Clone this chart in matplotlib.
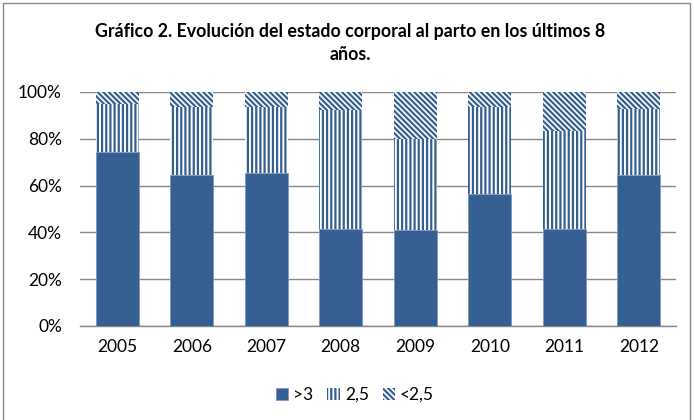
import matplotlib
matplotlib.use("Agg")
import matplotlib.pyplot as plt
from matplotlib.patches import Rectangle
import numpy as np

years = ["2005", "2006", "2007", "2008", "2009", "2010", "2011", "2012"]
gt3 = [74.5, 64.5, 65.4, 41.5, 41.0, 56.4, 41.5, 64.5]
v25 = [20.2, 29.2, 28.3, 50.8, 39.0, 37.3, 41.8, 28.2]
lt25 = [5.3, 6.3, 6.3, 7.7, 20.0, 6.3, 16.7, 7.3]
series_names = [">3", "2,5", "<2,5"]

plt.rcParams['font.family'] = ['Lato', 'DejaVu Sans']
plt.rcParams['hatch.linewidth'] = 1.6

W, H = 694, 420
fig = plt.figure(figsize=(W/100, H/100), dpi=100)
ax = fig.add_axes([80/W, 1-326/H, (676-80)/W, (326-92)/H])

blue = '#365F91'
x = np.arange(len(years))
bw = 0.58
b1 = ax.bar(x, gt3, bw, color=blue, edgecolor='#7C9AC0', linewidth=0.6, label=series_names[0], zorder=3)
b2 = ax.bar(x, v25, bw, bottom=gt3, color='white', edgecolor=blue, hatch='||||', linewidth=0, label=series_names[1], zorder=3)
bottom3 = np.array(gt3) + np.array(v25)
b3 = ax.bar(x, lt25, bw, bottom=bottom3, color='white', edgecolor=blue, hatch='\\\\\\\\\\\\', linewidth=0, label=series_names[2], zorder=3)

ax.set_xlim(-0.5, len(years)-0.5)
ax.set_ylim(0, 100)
ax.set_yticks([0, 20, 40, 60, 80, 100])
ax.set_yticklabels([f"{v}%" for v in [0, 20, 40, 60, 80, 100]], fontsize=12.5)
ax.set_xticks(x)
ax.set_xticklabels(years, fontsize=12.5)
ax.tick_params(axis='both', length=0, colors='black')
ax.tick_params(axis='y', pad=13)
ax.tick_params(axis='x', pad=9)
ax.yaxis.grid(True, color='#868686', linewidth=1.0, zorder=0)
for s in ['top', 'right', 'left']:
    ax.spines[s].set_visible(False)
ax.spines['bottom'].set_color('#868686')
ax.spines['bottom'].set_linewidth(1.0)

fig.text(350/W, 1-43/H, "Gráfico 2. Evolución del estado corporal al parto en los últimos 8\naños.",
         ha='center', va='center', fontsize=12.8, fontweight='bold', linespacing=1.5)

leg = fig.legend(handles=[b1, b2, b3], labels=series_names, loc='center', bbox_to_anchor=(355/W, 1-395/H),
                 ncol=3, frameon=False, fontsize=12.5, handlelength=0.7, handleheight=0.7,
                 handletextpad=0.3, columnspacing=0.8)

fig.patches.append(Rectangle((3/W, -0.1), (690-3)/W, (1.1 - 3/H), transform=fig.transFigure,
                             fill=False, edgecolor='#868686', linewidth=1.0))

fig.savefig("out.png", dpi=100)
